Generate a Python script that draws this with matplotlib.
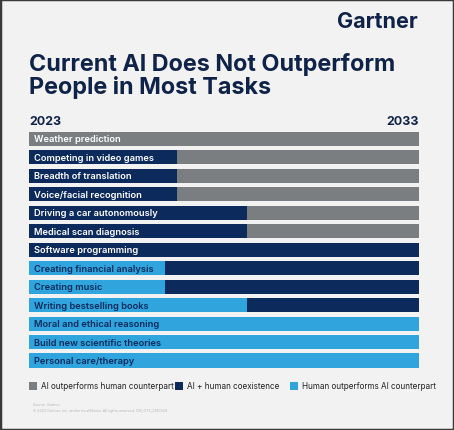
import matplotlib as mpl

mpl.use("Agg")

import matplotlib.pyplot as plt
import matplotlib.patches as mpatches

tasks = [
    "Weather prediction",
    "Competing in video games",
    "Breadth of translation",
    "Voice/facial recognition",
    "Driving a car autonomously",
    "Medical scan diagnosis",
    "Software programming",
    "Creating financial analysis",
    "Creating music",
    "Writing bestselling books",
    "Moral and ethical reasoning",
    "Build new scientific theories",
    "Personal care/therapy",
]
# state at 2023, state at 2033, and the year the switch happens
start_state = ["ai", "co", "co", "co", "co", "co", "co",
               "hu", "hu", "hu", "hu", "hu", "hu"]
end_state = ["ai", "ai", "ai", "ai", "ai", "ai", "co",
             "co", "co", "co", "hu", "hu", "hu"]
switch_year = [2023, 2026.8, 2026.8, 2026.8, 2028.6, 2028.6, 2033,
               2026.5, 2026.5, 2028.6, 2033, 2033, 2033]
year_start, year_end = 2023, 2033

state_names = {
    "ai": "AI outperforms human counterpart",
    "co": "AI + human coexistence",
    "hu": "Human outperforms AI counterpart",
}
colors = {"ai": "#7b7e81", "co": "#0c2a5c", "hu": "#2fa4dd"}
text_colors = {"ai": "white", "co": "white", "hu": "#0c2a5c"}
navy = "#0f2348"
bg = "#f2f2f2"

plt.rcParams["font.family"] = ["Inter", "DejaVu Sans"]

W, H = 454, 431
fig = plt.figure(figsize=(W / 100, H / 100), dpi=100, facecolor=bg)


def fx(px):
    return px / W


def fy(py):
    return 1 - py / H


# frame
fig.patches.append(mpatches.Rectangle((0, 0), 1, 1, transform=fig.transFigure,
                                      fill=False, edgecolor="#3a3a3a", linewidth=2.5))

fig.text(fx(418), fy(22.5), "Gartner", ha="right", va="center", fontsize=15.5,
         fontweight="bold", color=navy)
fig.text(fx(29), fy(64.5), "Current AI Does Not Outperform", ha="left", va="center",
         fontsize=16.8, fontweight="bold", color=navy)
fig.text(fx(29), fy(87.5), "People in Most Tasks", ha="left", va="center",
         fontsize=16.8, fontweight="bold", color=navy)
fig.text(fx(29), fy(122), str(year_start), ha="left", va="center", fontsize=9,
         fontweight="bold", color=navy)
fig.text(fx(418.5), fy(122), str(year_end), ha="right", va="center", fontsize=9,
         fontweight="bold", color=navy)

row_px = 18.46
top_px = 140 - row_px / 2
bot_px = 361.5 + row_px / 2
ax = fig.add_axes([fx(29), fy(bot_px), fx(418.7) - fx(29), (bot_px - top_px) / H])
ax.set_facecolor("none")

for i, task in enumerate(tasks):
    s, e, yr = start_state[i], end_state[i], switch_year[i]
    if yr > year_start:
        ax.barh(i, yr - year_start, left=year_start, height=0.76,
                color=colors[s], linewidth=0)
    if yr < year_end:
        ax.barh(i, year_end - yr, left=yr, height=0.76,
                color=colors[e], linewidth=0)
    ax.text(year_start + 0.14, i, task, ha="left", va="center", fontsize=6.7,
            fontweight="semibold", color=text_colors[s])

ax.set_xlim(year_start, year_end)
ax.set_ylim(len(tasks) - 0.5, -0.5)
ax.axis("off")

# legend
legend_items = [("ai", 29), ("co", 175), ("hu", 290)]
for key, x0 in legend_items:
    fig.patches.append(mpatches.Rectangle((fx(x0), fy(390.5)), fx(8), 8 / H,
                                          transform=fig.transFigure,
                                          color=colors[key], linewidth=0))
    fig.text(fx(x0 + 12), fy(386.5), state_names[key], ha="left", va="center",
             fontsize=5.85, color="#222222")

fig.text(fx(33), fy(405.5), "Source: Gartner", fontsize=2.6, color="#b5b5b5",
         va="center")
fig.text(fx(33), fy(411), "\u00a9 2023 Gartner, Inc. and/or its affiliates. All rights reserved. CM_GTS_2610928",
         fontsize=2.6, color="#b5b5b5", va="center")

fig.savefig("out.png", dpi=100, facecolor=bg)
